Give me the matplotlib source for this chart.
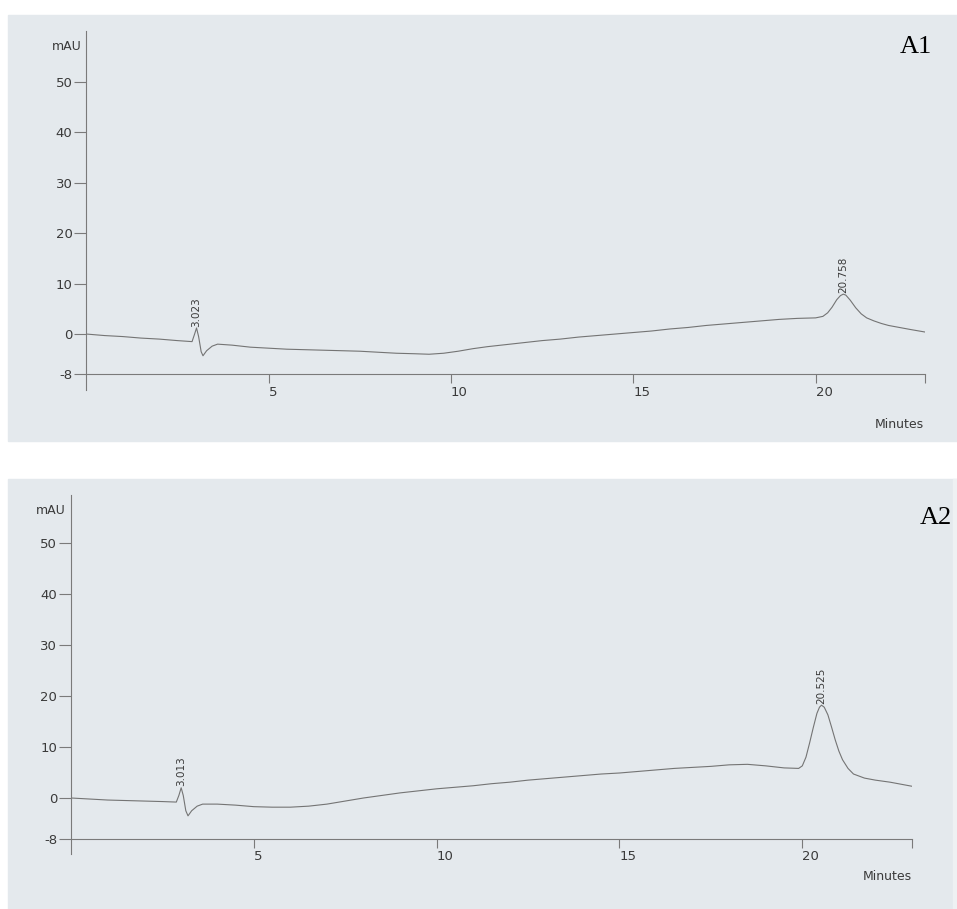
import matplotlib.pyplot as plt
from matplotlib.patches import Rectangle

# chromatogram A1 (time in minutes, absorbance in mAU)
a1_time = [0.0, 0.5, 1.0, 1.5, 2.0, 2.5, 2.9, 2.97, 3.023, 3.08, 3.15, 3.2, 3.3, 3.45, 3.6,
           4.0, 4.5, 5.0, 5.5, 6.0, 6.5, 7.0, 7.5, 8.0, 8.5, 9.0, 9.4, 9.8, 10.2, 10.6,
           11.0, 11.5, 12.0, 12.5, 13.0, 13.5, 14.0, 14.5, 15.0, 15.5, 16.0, 16.5, 17.0,
           17.5, 18.0, 18.5, 19.0, 19.5, 20.0, 20.2, 20.33, 20.45, 20.58, 20.68, 20.758,
           20.83, 20.95, 21.1, 21.25, 21.4, 21.6, 21.8, 22.0, 22.3, 22.6, 23.0]
a1_mau = [0.0, -0.3, -0.5, -0.8, -1.0, -1.3, -1.5, 0.0, 1.2, -0.5, -3.5, -4.3, -3.3, -2.4, -2.0,
          -2.2, -2.6, -2.8, -3.0, -3.1, -3.2, -3.3, -3.4, -3.6, -3.8, -3.9, -4.0, -3.8, -3.4, -2.9,
          -2.5, -2.1, -1.7, -1.3, -1.0, -0.6, -0.3, 0.0, 0.3, 0.6, 1.0, 1.3, 1.7,
          2.0, 2.3, 2.6, 2.9, 3.1, 3.2, 3.5, 4.2, 5.3, 6.8, 7.6, 7.9,
          7.7, 6.7, 5.2, 4.0, 3.2, 2.6, 2.1, 1.7, 1.3, 0.9, 0.4]
a1_peaks = [3.023, 20.758]

# chromatogram A2
a2_time = [0.0, 0.5, 1.0, 1.5, 2.0, 2.5, 2.88, 2.95, 3.013, 3.07, 3.14, 3.2, 3.3, 3.45, 3.6,
           4.0, 4.5, 5.0, 5.5, 6.0, 6.5, 7.0, 7.5, 8.0, 8.5, 9.0, 9.5, 10.0, 10.5, 11.0,
           11.5, 12.0, 12.5, 13.0, 13.5, 14.0, 14.5, 15.0, 15.5, 16.0, 16.5, 17.0, 17.5,
           18.0, 18.5, 19.0, 19.5, 19.9, 20.0, 20.1, 20.2, 20.3, 20.4, 20.47, 20.525,
           20.6, 20.7, 20.8, 20.9, 21.0, 21.1, 21.25, 21.4, 21.7, 22.0, 22.4, 22.7, 23.0]
a2_mau = [0.0, -0.2, -0.4, -0.5, -0.6, -0.7, -0.8, 0.5, 2.0, 0.5, -2.5, -3.5, -2.5, -1.6, -1.2,
          -1.2, -1.4, -1.7, -1.8, -1.8, -1.6, -1.2, -0.6, 0.0, 0.5, 1.0, 1.4, 1.8, 2.1, 2.4,
          2.8, 3.1, 3.5, 3.8, 4.1, 4.4, 4.7, 4.9, 5.2, 5.5, 5.8, 6.0, 6.2,
          6.5, 6.6, 6.3, 5.9, 5.8, 6.3, 8.0, 10.8, 13.8, 16.6, 17.8, 18.2,
          17.8, 16.3, 13.9, 11.4, 9.2, 7.5, 5.8, 4.7, 3.9, 3.5, 3.1, 2.7, 2.3]
a2_peaks = [3.013, 20.525]

yticks = [-8, 0, 10, 20, 30, 40, 50]
xticks = [5, 10, 15, 20, 23]
xlabels = ['5', '10', '15', '20', '']

W, H = 957, 909
paper = '#e4e9ed'
ink = '#3a3a3a'

fig = plt.figure(figsize=(W / 100, H / 100), dpi=100)
fig.patch.set_facecolor('white')

def px_rect(x0, y0, x1, y1, color):
    fig.patches.append(Rectangle((x0 / W, 1 - y1 / H), (x1 - x0) / W, (y1 - y0) / H,
                                 transform=fig.transFigure, color=color, zorder=-10))

# scanned sheets behind each trace
px_rect(8, 15, 957, 441, paper)
px_rect(8, 479, 957, 909, paper)
px_rect(953, 479, 957, 909, '#eef1f3')


def draw(rect, t, y, peaks, top, name, name_xy, minutes_xy):
    ax = fig.add_axes(rect)
    ax.set_zorder(5)
    ax.set_facecolor('none')
    ax.plot(t, y, color='#747474', lw=0.8)
    ax.set_xlim(0, 23)
    ax.set_ylim(-11, top)
    for s in ['top', 'right']:
        ax.spines[s].set_visible(False)
    ax.spines['bottom'].set_position(('data', -8))
    for s in ['left', 'bottom']:
        ax.spines[s].set_color('#7a7a7a')
        ax.spines[s].set_linewidth(0.8)
    ax.set_yticks(yticks)
    ax.set_yticklabels([str(v) for v in yticks])
    ax.set_xticks(xticks)
    ax.set_xticklabels(xlabels, ha='left')
    ax.tick_params(axis='y', length=8.5, width=0.8, color='#7a7a7a', pad=1.5,
                   labelsize=9.5, labelcolor=ink)
    ax.tick_params(axis='x', length=6.5, width=0.8, color='#7a7a7a', pad=1.5,
                   labelsize=9.5, labelcolor=ink)
    # retention time labels above each peak
    for p in peaks:
        i = t.index(p)
        ax.annotate('%.3f' % p, (p, y[i]), xytext=(0, 1), textcoords='offset points',
                    rotation=90, ha='center', va='bottom', fontsize=7.5, color=ink)
    fig.text(rect[0] - 5 / W, name_xy[2], 'mAU', ha='right', va='center',
             fontsize=9, color=ink, zorder=6)
    fig.text(name_xy[0], name_xy[1], name, ha='right', va='center',
             fontsize=19, family='Liberation Serif', color='black', zorder=6)
    fig.text(minutes_xy[0], minutes_xy[1], 'Minutes', ha='right', va='center',
             fontsize=9, color=ink, zorder=6)
    return ax


draw([86.3 / W, 1 - 389.6 / H, 838.7 / W, (389.6 - 31) / H], a1_time, a1_mau, a1_peaks, 60,
     'A1', (932 / W, 1 - 47 / H, 1 - 46 / H), (924 / W, 1 - 425 / H))
draw([71 / W, 1 - 854.1 / H, 841 / W, (854.1 - 494.5) / H], a2_time, a2_mau, a2_peaks, 59.5,
     'A2', (952 / W, 1 - 518 / H, 1 - 510 / H), (912 / W, 1 - 877 / H))

plt.savefig('out.png', dpi=100)
